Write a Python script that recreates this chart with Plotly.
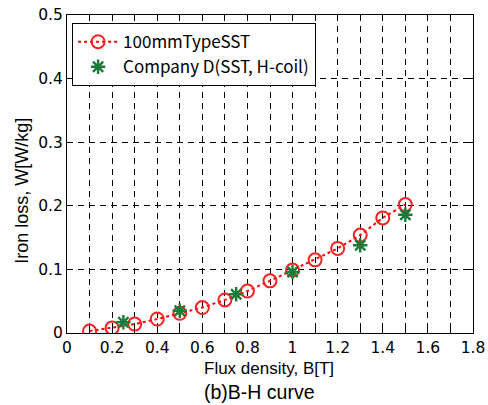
import plotly.graph_objects as go

# 100mmTypeSST series
sst_b = [0.1, 0.2, 0.3, 0.4, 0.5, 0.6, 0.7, 0.8, 0.9, 1.0, 1.1, 1.2, 1.3, 1.4, 1.5]
sst_w = [0.003, 0.008, 0.014, 0.022, 0.031, 0.040, 0.052, 0.066, 0.082, 0.099, 0.115, 0.133, 0.154, 0.181, 0.202]

# Company D (SST, H-coil)
cd_b = [0.25, 0.5, 0.75, 1.0, 1.3, 1.5]
cd_w = [0.017, 0.035, 0.061, 0.096, 0.138, 0.186]

x_ticks = [0, 0.2, 0.4, 0.6, 0.8, 1, 1.2, 1.4, 1.6, 1.8]
x_labels = ["0", "0.2", "0.4", "0.6", "0.8", "1", "1.2", "1.4", "1.6", "1.8"]
y_ticks = [0, 0.1, 0.2, 0.3, 0.4, 0.5]
y_labels = ["0", "0.1", "0.2", "0.3", "0.4", "0.5"]

FONT = "Noto Sans CJK JP, DejaVu Sans, sans-serif"
TICK_FONT = "DejaVu Sans, sans-serif"
TITLE_FONT = "Liberation Sans, Arial, sans-serif"

fig = go.Figure()
fig.add_trace(go.Scatter(
    x=sst_b, y=sst_w, mode="lines+markers", name="100mmTypeSST",
    line=dict(color="#ff0000", width=2, dash="dot"),
    marker=dict(symbol="circle-open", size=13, color="#ff2020", line=dict(width=2, color="#ff2020")),
))
fig.add_trace(go.Scatter(
    x=cd_b, y=cd_w, mode="markers", name="Company D(SST, H-coil)",
    marker=dict(symbol="asterisk-open", size=12, color="#1a7a3a", line=dict(width=2.4, color="#1a7a3a")),
))

axis_common = dict(
    showline=True, linecolor="black", linewidth=1.2, mirror="ticks",
    ticks="inside", ticklen=5, tickcolor="black", tickwidth=1,
    zeroline=False, automargin=False,
    showgrid=True, gridcolor="black", gridwidth=1, griddash="6px,5px",
    tickfont=dict(size=15.5, color="black", family=TICK_FONT),
)

fig.update_layout(
    width=488, height=405,
    margin=dict(l=67, r=15, t=15, b=72),
    paper_bgcolor="white", plot_bgcolor="white",
    font=dict(family=FONT, color="black"),
    showlegend=True,
    legend=dict(
        x=0.012, y=0.975, xanchor="left", yanchor="top",
        bgcolor="white", bordercolor="black", borderwidth=1.2,
        font=dict(size=17, family=FONT, color="black"),
        itemwidth=40, tracegroupgap=0,
    ),
    xaxis=dict(
        range=[0, 1.8], tickvals=x_ticks, ticktext=x_labels,
        minor=dict(dtick=0.1, tick0=0, ticks="inside", ticklen=5, tickcolor="black",
                   showgrid=True, gridcolor="black", gridwidth=1, griddash="6px,5px"),
        **axis_common,
    ),
    yaxis=dict(
        range=[0, 0.5], tickvals=y_ticks, ticktext=y_labels,
        **axis_common,
    ),
    annotations=[
        dict(text="Flux density, B[T]", xref="paper", yref="paper", x=0.498, y=-0.113,
             xanchor="center", yanchor="middle", showarrow=False,
             font=dict(size=17, family=TITLE_FONT, color="black")),
        dict(text="Iron loss, W[W/kg]", xref="paper", yref="paper", x=-0.111, y=0.447,
             xanchor="center", yanchor="middle", showarrow=False, textangle=-90,
             font=dict(size=18, family=TITLE_FONT, color="black")),
        dict(text="(b)B-H curve", xref="paper", yref="paper", x=0.475, y=-0.186,
             xanchor="center", yanchor="middle", showarrow=False,
             font=dict(size=19.5, family=TITLE_FONT, color="black")),
    ],
)

fig.write_html("out.html")
